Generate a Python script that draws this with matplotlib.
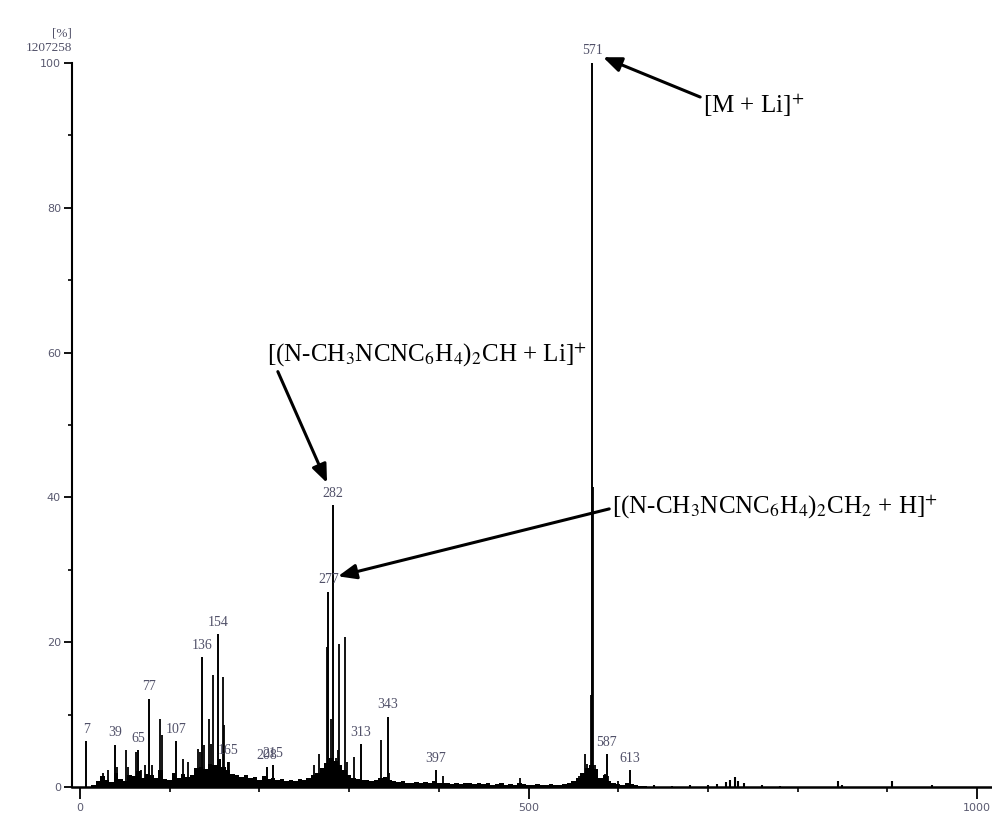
import numpy as np
import matplotlib.pyplot as plt
from matplotlib.ticker import MultipleLocator, FixedLocator

plt.rcParams["font.family"] = ["Liberation Serif", "DejaVu Serif"]
plt.rcParams["mathtext.fontset"] = "stix"

# labelled peaks (m/z, relative intensity %)
label_mz = [7, 39, 65, 77, 107, 136, 154, 165, 208, 215, 277, 282, 313, 343, 397, 571, 587, 613]
label_int = [6.3, 5.8, 5.1, 12.2, 6.3, 17.9, 21.1, 3.4, 2.7, 3.0, 27.0, 38.9, 5.9, 9.7, 2.3, 100.0, 4.5, 2.3]

# other visible peaks
peak_mz = [26, 31, 41, 51, 54, 62, 68, 72, 80, 89, 91, 115, 120, 132, 134, 138, 144, 146, 148,
           156, 159, 161, 166, 261, 267, 270, 275, 280, 285, 288, 289, 295, 298, 306, 336, 345,
           405, 490, 556, 563, 565, 570, 572, 574, 585, 589, 600]
peak_int = [1.9, 2.3, 2.8, 5.1, 2.8, 4.8, 2.3, 3.0, 3.0, 9.4, 7.2, 3.9, 3.5, 5.2, 4.8, 5.8, 9.4, 5.9, 15.4,
            3.3, 15.2, 8.6, 3.4, 3.0, 4.5, 2.5, 19.3, 9.4, 4.0, 5.1, 19.7, 20.7, 3.5, 4.1, 6.5, 2.0,
            1.5, 1.2, 1.5, 4.5, 3.2, 12.7, 41.5, 3.0, 1.8, 1.5, 0.8]

# low-level background (grass), every 5 m/z
bg_mz = [15, 20, 25, 30, 35, 40, 45, 50, 55, 60, 65, 70, 75, 80, 85, 90, 95, 100, 105, 110,
         115, 120, 125, 130, 135, 140, 145, 150, 155, 160, 165, 170, 175, 180, 185, 190, 195, 200,
         205, 210, 215, 220, 225, 230, 235, 240, 245, 250, 255, 260, 265, 270, 275, 280, 285, 290,
         295, 300, 305, 310, 315, 320, 325, 330, 335, 340, 345, 350, 355, 360, 365, 370, 375, 380,
         385, 390, 395, 400, 405, 410, 415, 420, 425, 430, 435, 440, 445, 450, 455, 460, 465, 470,
         475, 480, 485, 490, 495, 500, 505, 510, 515, 520, 525, 530, 535, 540, 545, 550, 555, 560,
         565, 570, 575, 580, 585, 590, 595, 600, 605, 610, 615, 620, 625, 630]
bg_int = [0.3, 0.8, 1.5, 1.0, 0.7, 2.0, 1.1, 0.8, 1.6, 1.5, 2.2, 1.2, 1.8, 1.6, 1.2, 2.4, 1.1, 1.0, 2.0, 1.3,
          1.8, 1.4, 1.7, 2.6, 2.8, 2.5, 3.2, 3.0, 3.8, 2.7, 2.4, 1.8, 1.6, 1.4, 1.6, 1.2, 1.4, 1.0,
          1.5, 1.1, 1.3, 0.9, 1.1, 0.8, 1.0, 0.8, 1.1, 1.0, 1.3, 1.6, 2.0, 2.6, 3.3, 4.0, 3.6, 3.0,
          2.3, 1.7, 1.3, 1.1, 1.0, 0.9, 0.8, 1.0, 1.3, 1.4, 1.0, 0.8, 0.7, 0.8, 0.6, 0.6, 0.7, 0.5,
          0.7, 0.5, 0.8, 0.6, 0.5, 0.6, 0.4, 0.5, 0.4, 0.5, 0.6, 0.4, 0.5, 0.4, 0.5, 0.3, 0.4, 0.5,
          0.3, 0.4, 0.3, 0.6, 0.4, 0.3, 0.3, 0.4, 0.3, 0.3, 0.4, 0.3, 0.3, 0.4, 0.5, 0.8, 1.3, 2.0,
          2.6, 3.0, 2.5, 1.2, 1.6, 0.8, 0.5, 0.4, 0.3, 0.5, 0.4, 0.3, 0.2, 0.2]

# sparse small peaks at high m/z
tail_mz = [640, 660, 680, 700, 710, 720, 725, 730, 733, 740, 760, 780, 845, 850, 905, 950]
tail_int = [0.3, 0.2, 0.3, 0.3, 0.4, 0.7, 0.9, 1.4, 0.8, 0.5, 0.3, 0.2, 0.8, 0.3, 0.8, 0.3]

fig = plt.figure(figsize=(9.92, 8.18), dpi=100)
ax = fig.add_axes([72 / 992, 1 - 790.6 / 818, 920 / 992, (790.6 - 63) / 818])

ax.bar(bg_mz, bg_int, width=5, color="black", linewidth=0)
ax.vlines(tail_mz, 0, tail_int, color="black", lw=1.5)
ax.vlines(peak_mz, 0, peak_int, color="black", lw=1.3)
ax.vlines(label_mz, 0, label_int, color="black", lw=1.4)

for mz, h in zip(label_mz, label_int):
    ax.annotate(str(mz), xy=(mz, h), xytext=(0, 4), textcoords="offset points",
                ha="center", va="bottom", fontsize=10, color="#505068")

ax.set_xlim(-8.9, 1016.7)
ax.set_ylim(-0.5, 100)

for side in ["top", "right"]:
    ax.spines[side].set_visible(False)
ax.spines["bottom"].set_position(("data", 0))
ax.spines["bottom"].set_linewidth(1.8)
ax.spines["left"].set_linewidth(1.5)
ax.spines["left"].set_bounds(0, 100)

ax.xaxis.set_major_locator(FixedLocator([0, 500, 1000]))
ax.xaxis.set_minor_locator(FixedLocator([100, 200, 300, 400, 600, 700, 800, 900]))
ax.yaxis.set_major_locator(MultipleLocator(20))
ax.yaxis.set_minor_locator(MultipleLocator(10))
ax.tick_params(axis="x", which="major", length=8.5, width=1.3, pad=3,
               labelsize=8, labelcolor="#5a5a70")
ax.tick_params(axis="x", which="minor", length=3.5, width=1.2)
ax.tick_params(axis="y", which="major", length=6, width=1.3, pad=2,
               labelsize=8, labelcolor="#5a5a70")
ax.tick_params(axis="y", which="minor", length=3, width=1.2)
for lab in ax.get_xticklabels() + ax.get_yticklabels():
    lab.set_family("DejaVu Sans")

fig.text(72 / 992, 1 - 33 / 818, "[%]", ha="right", va="center", fontsize=9.5, color="#505068")
fig.text(72 / 992, 1 - 48 / 818, "1207258", ha="right", va="center", fontsize=9.5, color="#505068")

arrow = dict(arrowstyle="-|>,head_length=1.1,head_width=0.45", color="black",
             lw=2.2, shrinkA=0, shrinkB=0, mutation_scale=10)

ax.annotate(r"[M + Li]$^{+}$", xy=(583.1, 100.8), xytext=(694.5, 94.2),
            ha="left", va="center", fontsize=18, annotation_clip=False,
            arrowprops=dict(arrow, relpos=(0, 0.75)))
ax.annotate(r"[(N-CH$_3$NCNC$_6$H$_4$)$_2$CH + Li]$^{+}$", xy=(275.4, 42.0),
            xytext=(208.5, 59.7), ha="left", va="center", fontsize=18,
            annotation_clip=False, arrowprops=dict(arrow, relpos=(0.03, 0)))
ax.annotate(r"[(N-CH$_3$NCNC$_6$H$_4$)$_2$CH$_2$ + H]$^{+}$", xy=(287.6, 29.1),
            xytext=(593.1, 38.7), ha="left", va="center", fontsize=18,
            annotation_clip=False, arrowprops=dict(arrow, relpos=(0, 0.45)))

fig.savefig("out.png", dpi=100)
